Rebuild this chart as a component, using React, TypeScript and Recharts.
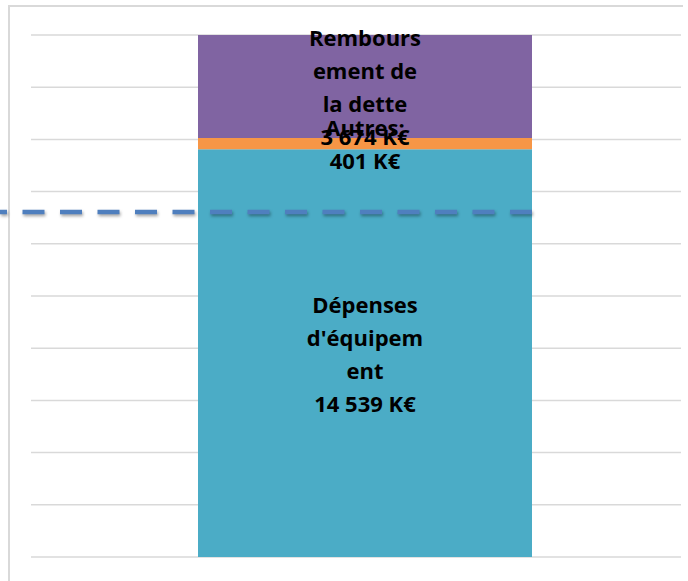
import React from "react";
import { BarChart, Bar, XAxis, YAxis, CartesianGrid, ReferenceLine, LabelList } from "recharts";

// values (K€)
const categories = ["Dépenses d'investissement"];
const equipement = [14539];
const autres = [401];
const dette = [3674];
const seuil = 12300;

const labelEquipement = ["Dépenses", "d'équipem", "ent"];
const labelAutres = ["Autres:"];
const labelDette = ["Rembours", "ement de", "la dette"];

const BAR_SIZE = 334;
const PAD_LEFT = 18;
const total = equipement[0] + autres[0] + dette[0];
const gridTicks = Array.from({ length: 11 }, (_, i) => (total * i) / 10);

const data = categories.map((name, i) => ({
  name,
  equipement: equipement[i],
  autres: autres[i],
  dette: dette[i],
}));

const fmt = (v: number) => String(v).replace(/\B(?=(\d{3})+(?!\d))/g, " ") + " K€";

const makeLabel = (lines: string[]) => (props: any) => {
  const { x, y, width, height, value } = props;
  const all = [...lines, fmt(Number(value))];
  const cx = Number(x) + Number(width) / 2;
  const cy = Number(y) + Number(height) / 2;
  const lh = 33;
  const start = cy - ((all.length - 1) * lh) / 2;
  return (
    <text
      x={cx}
      textAnchor="middle"
      fontFamily="'Open Sans', sans-serif"
      fontWeight={700}
      fontSize={22}
      fill="#000"
    >
      {all.map((t, i) => (
        <tspan key={i} x={cx} y={start + i * lh} dominantBaseline="central">
          {t}
        </tspan>
      ))}
    </text>
  );
};

// dashed threshold runs from the page edge to the right side of the bar
const DashedLine = (props: any) => {
  const { x1, x2, y1 } = props;
  const end = (Number(x1) + PAD_LEFT + Number(x2)) / 2 + BAR_SIZE / 2;
  return (
    <line
      x1={0}
      x2={end}
      y1={y1}
      y2={y1}
      stroke="#4F7FBE"
      strokeWidth={4.5}
      strokeDasharray="22 15.5"
      strokeDashoffset={15}
      style={{ filter: "drop-shadow(1px 2px 1.5px rgba(0,0,0,0.35))" }}
    />
  );
};

export default function App() {
  return (
    <div style={{ position: "fixed", left: 0, top: 0, width: 688, height: 581, background: "#fff", overflow: "hidden" }}>
      <div
        style={{
          position: "absolute",
          left: 8,
          top: 5,
          width: 673,
          height: 620,
          borderLeft: "2px solid #d9d9d9",
          borderTop: "2px solid #d9d9d9",
        }}
      />
      <div style={{ position: "absolute", left: 0, top: 0 }}>
        <BarChart
          width={688}
          height={581}
          data={data}
          margin={{ top: 35, right: 7, bottom: 24, left: 31 }}
          style={{ overflow: "visible" }}
        >
          <CartesianGrid vertical={false} stroke="#d9d9d9" strokeWidth={1.5} />
          <XAxis dataKey="name" hide padding={{ left: PAD_LEFT, right: 0 }} />
          <YAxis hide domain={[0, total]} ticks={gridTicks} />
          <Bar dataKey="equipement" stackId="a" fill="#4BACC6" barSize={BAR_SIZE} isAnimationActive={false}>
            <LabelList dataKey="equipement" content={makeLabel(labelEquipement)} />
          </Bar>
          <Bar dataKey="autres" stackId="a" fill="#F79646" barSize={BAR_SIZE} isAnimationActive={false}>
            <LabelList dataKey="autres" content={makeLabel(labelAutres)} />
          </Bar>
          <Bar dataKey="dette" stackId="a" fill="#8064A2" barSize={BAR_SIZE} isAnimationActive={false}>
            <LabelList dataKey="dette" content={makeLabel(labelDette)} />
          </Bar>
          <ReferenceLine y={seuil} ifOverflow="visible" shape={DashedLine} />
        </BarChart>
      </div>
    </div>
  );
}
